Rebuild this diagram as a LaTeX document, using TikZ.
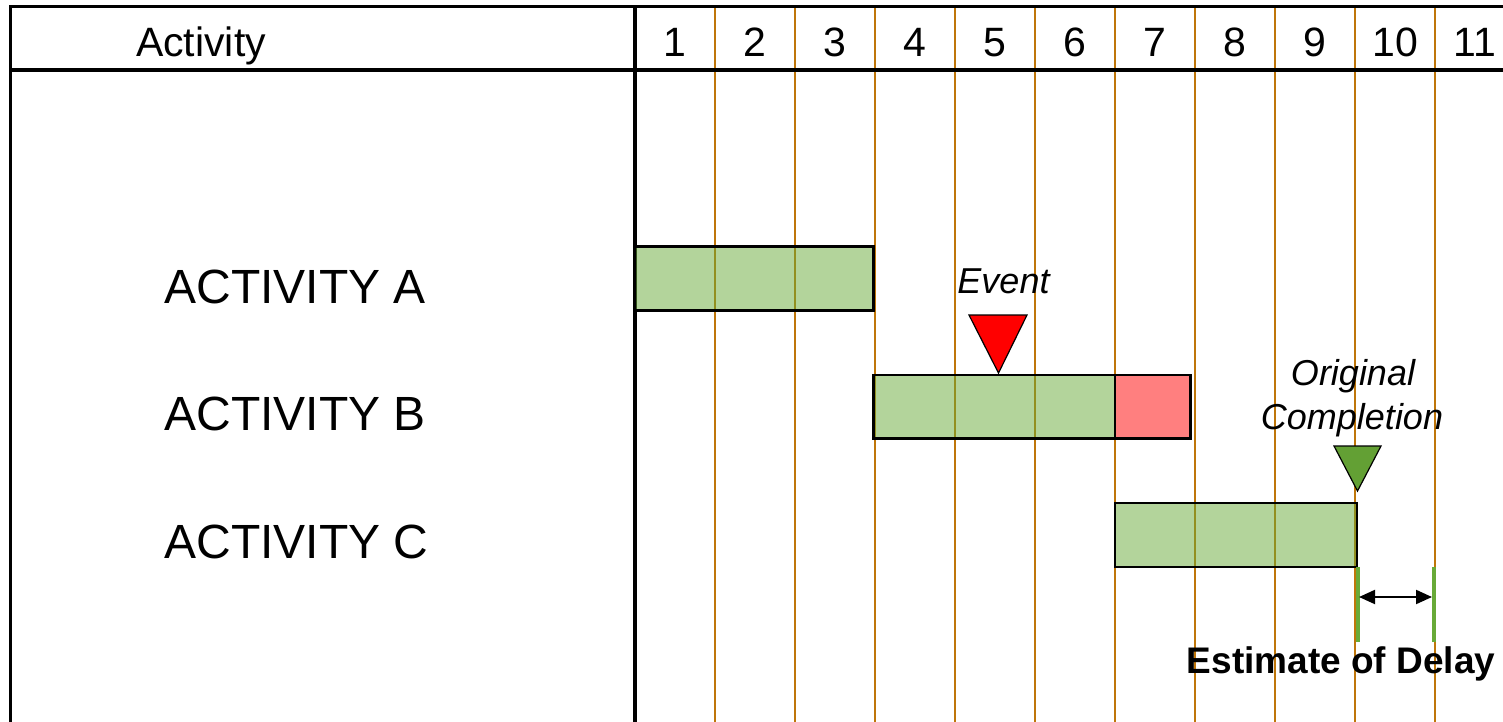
\documentclass[tikz,border=0pt]{standalone}
\usepackage{fontspec}
\setmainfont{Liberation Sans}
\usetikzlibrary{arrows.meta}
\definecolor{gridor}{RGB}{191,118,10}
\definecolor{bargreen}{RGB}{103,169,55}
\definecolor{barred}{RGB}{255,0,0}
\definecolor{trigreen}{RGB}{99,160,52}
\definecolor{linegreen}{RGB}{104,170,56}
\begin{document}
\begin{tikzpicture}[x=0.5pt,y=-0.5pt,
  gridline/.style={draw=gridor, line width=1pt},
  frameline/.style={draw=black, line width=1.6pt},
  greenbar/.style={fill=bargreen, fill opacity=0.5, draw=black, line width=1.3pt},
  redbar/.style={fill=barred, fill opacity=0.5, draw=black, line width=1.3pt},
  eventtri/.style={fill=red, draw=black, line width=0.6pt, line join=miter},
  origtri/.style={fill=trigreen, draw=black, line width=0.6pt, line join=miter},
  markline/.style={draw=linegreen, line width=2pt},
  delayarrow/.style={draw=black, line width=1pt, {Triangle[length=8pt,width=7pt]}-{Triangle[length=8pt,width=7pt]}},
  headtxt/.style={font=\fontsize{20.5}{24}\selectfont, anchor=base, inner sep=0pt},
  acttxt/.style={font=\fontsize{24}{28}\selectfont, anchor=base west, inner sep=0pt},
  notetxt/.style={font=\fontsize{18}{22}\selectfont\itshape, anchor=base, inner sep=0pt},
  delaytxt/.style={font=\fontsize{18.5}{22}\selectfont\bfseries, anchor=base, inner sep=0pt}
]
\useasboundingbox (0,0) rectangle (1503,722);
% grid lines
\foreach \k in {0,...,9}{
  \draw[gridline] ({715+80*\k},6.5) -- ({715+80*\k},722);
}
% frame
\draw[frameline] (1503,6.5) -- (10.5,6.5) -- (10.5,722);
\draw[frameline] (10.5,70) -- (1503,70);
\draw[frameline] (635,6.5) -- (635,722);
% header text
\node[headtxt] (hact) at (201,57) {Activity};
\foreach \n in {1,...,11}{
  \node[headtxt] (h\n) at ({595+80*\n},57) {\n};
}
% activity labels
\node[acttxt] (la) at (164,303) {ACTIVITY A};
\node[acttxt] (lb) at (164,430.5) {ACTIVITY B};
\node[acttxt] (lc) at (164,558) {ACTIVITY C};
% bars
\draw[greenbar] (635,246.5) rectangle (873.5,310.5);
\draw[greenbar] (873.5,375) rectangle (1115,438.5);
\draw[redbar] (1115,375) rectangle (1190.5,438.5);
\draw[greenbar] (1115,503) rectangle (1357,567);
% event
\node[notetxt] (event) at (1003.5,293) {Event};
\draw[eventtri] (969,315) -- (1027,315) -- (998.5,373) -- cycle;
% original completion
\node[notetxt] (orig1) at (1353,385) {Original};
\node[notetxt] (orig2) at (1352,429) {Completion};
\draw[origtri] (1334,446) -- (1381,446) -- (1357.5,491) -- cycle;
% delay
\coordinate (ml1) at (1357.5,567);
\coordinate (ml1b) at (1357.5,642);
\coordinate (ml2) at (1433.5,567);
\coordinate (ml2b) at (1433.5,642);
\draw[markline] (ml1) -- (ml1b);
\draw[markline] (ml2) -- (ml2b);
\coordinate (dl) at (1359,597);
\coordinate (dr) at (1432,597);
\draw[delayarrow] (dl) -- (dr);
\node[delaytxt] (delay) at (1341,673) {Estimate of Delay};
\end{tikzpicture}
\end{document}
